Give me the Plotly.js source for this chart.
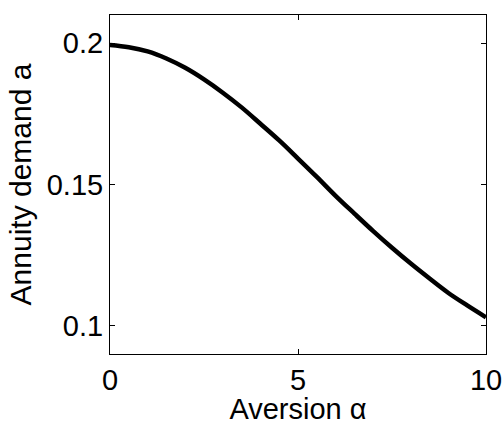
<!DOCTYPE html>
<html>
<head>
<meta charset="utf-8">
<script src="https://cdn.plot.ly/plotly-3.0.1.min.js"></script>
<style>html,body{margin:0;padding:0;background:#fff;}#chart{width:504px;height:425px;}</style>
</head>
<body>
<div id="chart"></div>
<script>
var aversion = [0, 0.5, 1, 1.5, 2, 2.5, 3, 3.5, 4, 4.5, 5, 5.5, 6, 6.5, 7, 7.5, 8, 8.5, 9, 9.5, 10];
var annuityDemand = [0.1994, 0.1986, 0.1971, 0.1946, 0.1913, 0.1872, 0.1825, 0.1773, 0.1715, 0.1656, 0.1592, 0.1527,
                     0.1460, 0.1397, 0.1335, 0.1276, 0.1220, 0.1167, 0.1116, 0.1072, 0.1030];
var xTicks = [0, 5, 10];
var yTicks = [0.1, 0.15, 0.2];
var yTickLabels = ['0.1', '0.15', '0.2'];

var fontFam = 'Liberation Sans, Arial, sans-serif';
var trace = {
  x: aversion, y: annuityDemand, type: 'scatter', mode: 'lines',
  line: {color: '#000', width: 4.5, shape: 'spline', smoothing: 1},
  hoverinfo: 'none'
};
var axisCommon = {
  showline: true, linecolor: '#000', linewidth: 1, mirror: 'allticks',
  ticks: 'inside', ticklen: 5, tickcolor: '#000', tickwidth: 1,
  showgrid: false, zeroline: false,
  tickfont: {family: fontFam, size: 29, color: '#000'}
};
var layout = {
  width: 504, height: 425,
  margin: {l: 110, r: 18, t: 15, b: 71},
  paper_bgcolor: '#fff', plot_bgcolor: '#fff',
  showlegend: false,
  xaxis: Object.assign({}, axisCommon, {
    range: [0, 10], tickvals: xTicks, ticktext: xTicks.map(String),
    title: {text: 'Aversion α', font: {family: fontFam, size: 29, color: '#000'}, standoff: 0}
  }),
  yaxis: Object.assign({}, axisCommon, {
    range: [0.09, 0.21], tickvals: yTicks, ticktext: yTickLabels,
    title: {text: 'Annuity demand a', font: {family: fontFam, size: 30, color: '#000'}, standoff: 6}
  })
};
Plotly.newPlot('chart', [trace], layout, {displayModeBar: false, staticPlot: true});
</script>
</body>
</html>
